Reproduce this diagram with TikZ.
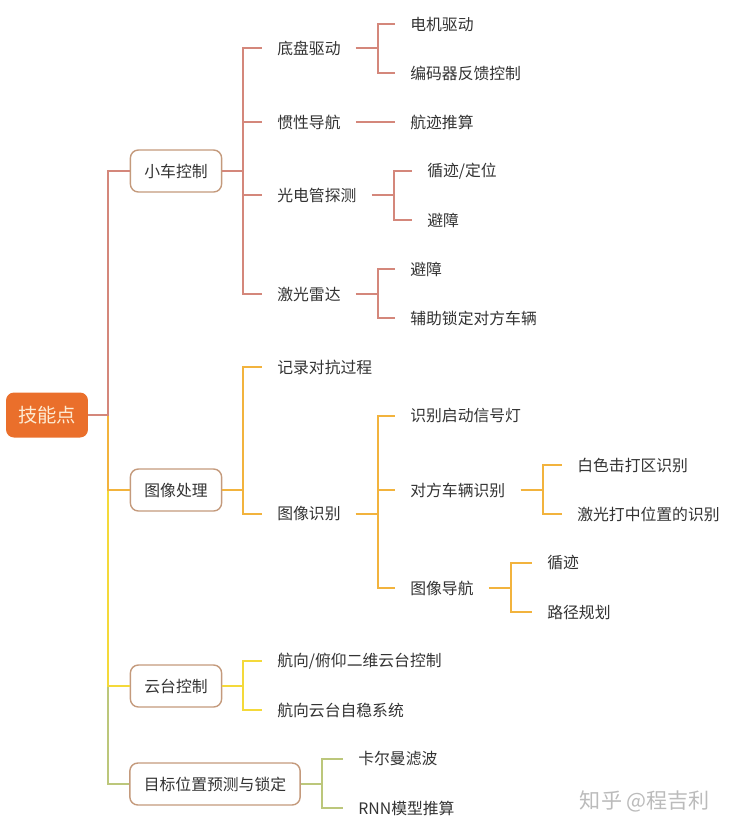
\documentclass[tikz,border=0pt]{standalone}
\usepackage{fontspec}
\setmainfont{Noto Sans CJK SC}
\usetikzlibrary{positioning,calc}
\usepackage{xcolor}
\definecolor{mmInk}{HTML}{333333}
\definecolor{mmRoot}{HTML}{EA6F2B}
\definecolor{mmRootTxt}{HTML}{FDEBD3}
\definecolor{mmEdge}{HTML}{C49A7C}
\definecolor{mmSalmon}{HTML}{D4877B}
\definecolor{mmAmber}{HTML}{F2B33D}
\definecolor{mmYellow}{HTML}{F4D93A}
\definecolor{mmOlive}{HTML}{BCC77B}
\definecolor{mmMark}{HTML}{BBBBBB}
\tikzset{
  root/.style={fill=mmRoot, rounded corners=0.16cm, minimum width=1.64cm, minimum height=0.9cm, text=mmRootTxt, font=\fontsize{11}{13}\selectfont},
  topic/.style={draw=mmEdge, fill=white, line width=0.8pt, rounded corners=0.16cm, inner xsep=0.28cm, minimum height=0.84cm, text=mmInk, font=\fontsize{9}{11}\selectfont},
  leaf/.style={anchor=west, inner xsep=0.3cm, inner ysep=2pt, text=mmInk, font=\fontsize{9}{11}\selectfont},
  ln/.style={line width=1.1pt, line join=miter},
  lnR/.style={ln, draw=mmSalmon},
  lnO/.style={ln, draw=mmAmber},
  lnY/.style={ln, draw=mmYellow},
  lnG/.style={ln, draw=mmOlive},
}
\begin{document}
\begin{tikzpicture}[x=0.02cm, y=-0.02cm]
    \useasboundingbox (0,0) rectangle (730,833);
    % root and first level
    \node[root] (root) at (47,415) {技能点};
    \node[topic] (car) at (176,171) {小车控制};
    \node[topic] (img) at (176,490) {图像处理};
    \node[topic] (gimbal) at (176,686) {云台控制};
    \node[topic] (pred) at (215,784) {目标位置预测与锁定};
    \draw[lnG] (root.east) -- ++(20,0) |- (pred.west);
    \draw[lnY] (root.east) -- ++(20,0) |- (gimbal.west);
    \draw[lnO] (root.east) -- ++(20,0) |- (img.west);
    \draw[lnR] (root.east) -- ++(20,0) |- (car.west);

    % 小车控制
    \node[leaf] (chassis) at (262,48) {底盘驱动};
    \node[leaf] (inertial) at (262,122) {惯性导航};
    \node[leaf] (photo) at (262,195) {光电管探测};
    \node[leaf] (lidar) at (262,294) {激光雷达};
    \node[leaf] (motor) at (395,24) {电机驱动};
    \node[leaf] (encoder) at (395,73) {编码器反馈控制};
    \node[leaf] (deadrec) at (395,122) {航迹推算};
    \node[leaf] (follow) at (412,171) {循迹/定位};
    \node[leaf] (avoidA) at (412,220) {避障};
    \node[leaf] (avoidB) at (395,269) {避障};
    \node[leaf] (lock) at (395,318) {辅助锁定对方车辆};
    \foreach \c in {chassis,inertial,photo,lidar}
        \draw[lnR] (car.east) -- ++(21,0) |- (\c.west);
    \draw[lnR] (chassis.east) -- ++(22,0) |- (motor.west);
    \draw[lnR] (chassis.east) -- ++(22,0) |- (encoder.west);
    \draw[lnR] (inertial.east) -- ++(22,0) |- (deadrec.west);
    \draw[lnR] (photo.east) -- ++(22,0) |- (follow.west);
    \draw[lnR] (photo.east) -- ++(22,0) |- (avoidA.west);
    \draw[lnR] (lidar.east) -- ++(22,0) |- (avoidB.west);
    \draw[lnR] (lidar.east) -- ++(22,0) |- (lock.west);

    % 图像处理
    \node[leaf] (record) at (262,367) {记录对抗过程};
    \node[leaf] (recog) at (262,514) {图像识别};
    \node[leaf] (light) at (395,416) {识别启动信号灯};
    \node[leaf] (enemy) at (395,490) {对方车辆识别};
    \node[leaf] (vnav) at (395,588) {图像导航};
    \node[leaf] (white) at (562,465) {白色击打区识别};
    \node[leaf] (laser) at (562,514) {激光打中位置的识别};
    \node[leaf] (track) at (532,563) {循迹};
    \node[leaf] (plan) at (532,612) {路径规划};
    \draw[lnO] (img.east) -- ++(21,0) |- (record.west);
    \draw[lnO] (img.east) -- ++(21,0) |- (recog.west);
    \foreach \c in {light,enemy,vnav}
        \draw[lnO] (recog.east) -- ++(22,0) |- (\c.west);
    \draw[lnO] (enemy.east) -- ++(22,0) |- (white.west);
    \draw[lnO] (enemy.east) -- ++(22,0) |- (laser.west);
    \draw[lnO] (vnav.east) -- ++(22,0) |- (track.west);
    \draw[lnO] (vnav.east) -- ++(22,0) |- (plan.west);

    % 云台控制
    \node[leaf] (yawpitch) at (262,661) {航向/俯仰二维云台控制};
    \node[leaf] (stab) at (262,710) {航向云台自稳系统};
    \draw[lnY] (gimbal.east) -- ++(21,0) |- (yawpitch.west);
    \draw[lnY] (gimbal.east) -- ++(21,0) |- (stab.west);

    % 目标位置预测与锁定
    \node[leaf] (kalman) at (343,759) {卡尔曼滤波};
    \node[leaf] (rnn) at (343,808) {RNN模型推算};
    \draw[lnG] (pred.east) -- ++(21,0) |- (kalman.west);
    \draw[lnG] (pred.east) -- ++(21,0) |- (rnn.west);

    \node[text=mmMark, font=\fontsize{12}{14}\selectfont] (mark) at (645,801) {知乎 @程吉利};
\end{tikzpicture}
\end{document}
